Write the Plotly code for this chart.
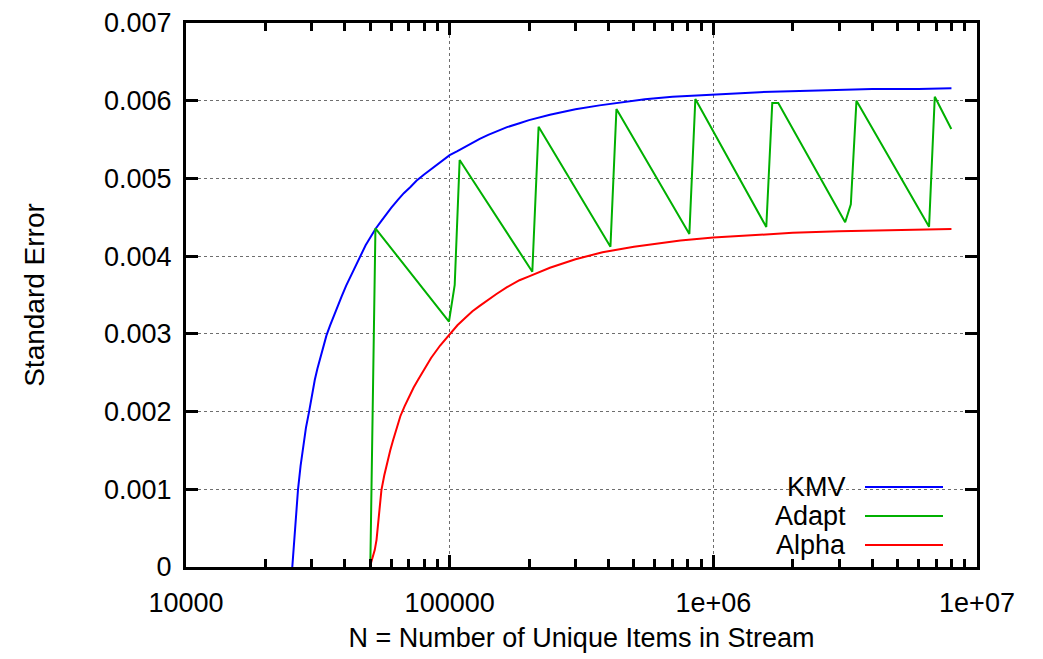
import plotly.graph_objects as go

# ---- data ----
kmv_n = [25300, 26000, 26600, 27200, 27800, 28500, 29300, 30000, 30800, 31500,
         32300, 33200, 34100, 35200, 36300, 37500, 38900, 40500, 42000, 43500,
         45000, 46500, 48000, 50000, 52300, 55000, 57500, 60000, 63500, 67000,
         71000, 74800, 80000, 85000, 92000, 100000, 107000, 115000, 122000, 130000,
         140000, 150000, 165000, 184000, 200000, 240000, 300000, 370000, 450000, 550000,
         700000, 1000000, 1500000, 2500000, 4000000, 6000000, 8000000]
kmv_se = [0.0, 0.00060, 0.00100, 0.00130, 0.00155, 0.00179, 0.00200, 0.00220, 0.00241, 0.00255,
          0.00269, 0.00284, 0.00298, 0.00311, 0.00323, 0.00336, 0.00348, 0.00362, 0.00373, 0.00385,
          0.00395, 0.00405, 0.00414, 0.00424, 0.00435, 0.00445, 0.00454, 0.00462, 0.00472, 0.00481,
          0.00489, 0.00497, 0.00505, 0.00512, 0.00521, 0.00530, 0.00535, 0.00541, 0.00546, 0.00551,
          0.00556, 0.00560, 0.00566, 0.00571, 0.00575, 0.00582, 0.00589, 0.00594, 0.00598, 0.00602,
          0.00605, 0.00608, 0.00611, 0.00613, 0.00615, 0.00615, 0.00616]

adapt_n = [50000, 52300, 99400, 104500, 109100, 205800, 217400, 407200, 429100, 811100,
           854700, 1588000, 1673000, 1763000, 3162000, 3323000, 3490000, 6580000, 6916000, 7990000]
adapt_se = [0.0, 0.004358, 0.003157, 0.003629, 0.005237, 0.003800, 0.005666, 0.004122, 0.005894, 0.004285,
            0.006022, 0.004375, 0.005971, 0.005971, 0.004436, 0.004667, 0.006001, 0.004379, 0.006052, 0.005636]

alpha_n = [49800, 51000, 52000, 52800, 53800, 55100, 56500, 58000, 59500, 61000,
           63000, 65000, 67500, 70000, 73000, 75900, 80000, 85000, 92000, 100000,
           107000, 115000, 122000, 130000, 140000, 150000, 165000, 184000, 200000, 240000,
           300000, 380000, 500000, 750000, 1000000, 1500000, 2000000, 3000000, 4000000, 6000000,
           8000000]
alpha_se = [0.0, 0.00012, 0.00022, 0.00035, 0.00068, 0.00099, 0.00118, 0.00136, 0.00150, 0.00163,
            0.00179, 0.00194, 0.00207, 0.00219, 0.00231, 0.00241, 0.00254, 0.00269, 0.00285, 0.00300,
            0.00311, 0.00321, 0.00329, 0.00336, 0.00344, 0.00351, 0.00360, 0.00369, 0.00374, 0.00385,
            0.00396, 0.00405, 0.00412, 0.00420, 0.00424, 0.00428, 0.00430, 0.00432, 0.00433, 0.00434,
            0.00435]

series_names = ["KMV", "Adapt", "Alpha"]
series_colors = ["#0000ff", "#00b000", "#ff0000"]

x_tickvals = [1e4, 1e5, 1e6, 1e7]
x_ticktext = ["10000", "100000", "1e+06", "1e+07"]
x_minor_tickvals = [m * d for d in (1e4, 1e5, 1e6) for m in range(2, 10)]
y_tickvals = [0, 0.001, 0.002, 0.003, 0.004, 0.005, 0.006, 0.007]
y_ticktext = ["0", "0.001", "0.002", "0.003", "0.004", "0.005", "0.006", "0.007"]

FONT = "Liberation Sans, Arial, Helvetica, sans-serif"

fig = go.Figure()
for name, xs, ys, col in zip(series_names,
                             [kmv_n, adapt_n, alpha_n],
                             [kmv_se, adapt_se, alpha_se],
                             series_colors):
    fig.add_trace(go.Scatter(x=xs, y=ys, mode="lines", name=name,
                             line=dict(color=col, width=2), showlegend=False))

axis_common = dict(
    showline=True, linewidth=3, linecolor="black", mirror="allticks",
    ticks="inside", ticklen=12, tickwidth=3, tickcolor="black",
    showgrid=True, gridcolor="#6e6e6e", gridwidth=1, griddash="dot",
    zeroline=False, tickfont=dict(family=FONT, size=27, color="black"),
    layer="above traces",
)

fig.update_xaxes(type="log", range=[4, 7], tickmode="array",
                 tickvals=x_tickvals, ticktext=x_ticktext,
                 ticklabelstandoff=10,
                 minor=dict(tickmode="array", tickvals=x_minor_tickvals,
                            ticks="inside", ticklen=8, tickwidth=3, tickcolor="black",
                            showgrid=False),
                 title=dict(text="N = Number of Unique Items in Stream",
                            font=dict(family=FONT, size=27, color="black"), standoff=11),
                 **axis_common)
fig.update_yaxes(range=[0, 0.007], tickmode="array",
                 tickvals=y_tickvals, ticktext=y_ticktext,
                 ticklabelstandoff=6,
                 title=dict(text="Standard Error",
                            font=dict(family=FONT, size=28, color="black"), standoff=52),
                 **axis_common)

# legend (gnuplot style: label right-aligned, sample line to the right)
L, R, T, B = 186, 977, 23, 567
def px2paper_x(px):
    return (px - L) / (R - L)
def py2paper_y(py):
    return (B - py) / (B - T)

fig.add_shape(type="rect", xref="paper", yref="paper",
              x0=px2paper_x(760), x1=px2paper_x(958), y0=py2paper_y(562), y1=py2paper_y(470),
              fillcolor="white", line=dict(width=0), layer="between")
legend_rows_py = [487, 516, 545]
for name, col, py in zip(series_names, series_colors, legend_rows_py):
    fig.add_annotation(xref="paper", yref="paper", x=px2paper_x(848), y=py2paper_y(py),
                       text=name, showarrow=False, xanchor="right", yanchor="middle",
                       font=dict(family=FONT, size=27, color="black"))
    fig.add_shape(type="line", xref="paper", yref="paper",
                  x0=px2paper_x(865), x1=px2paper_x(943), y0=py2paper_y(py), y1=py2paper_y(py),
                  line=dict(color=col, width=2))

fig.update_layout(width=1043, height=659,
                  margin=dict(l=L, r=1043 - R, t=T, b=659 - B, autoexpand=False),
                  plot_bgcolor="white", paper_bgcolor="white",
                  font=dict(family=FONT, size=27, color="black"),
                  showlegend=False)

fig.write_html("out.html", config={"displayModeBar": False},
               post_script="document.body.style.margin='0';document.body.style.padding='0';")
